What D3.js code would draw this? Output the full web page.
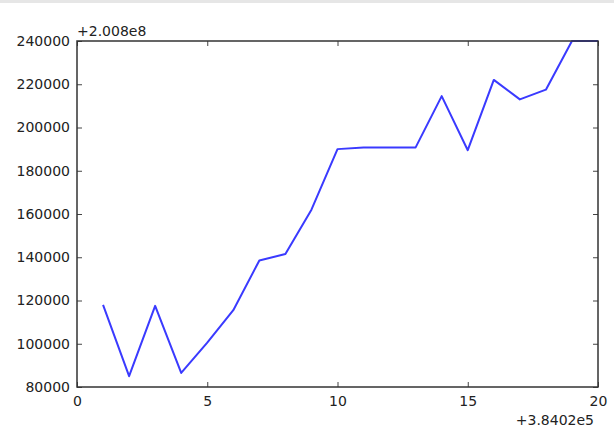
<!DOCTYPE html>
<html>
<head>
<meta charset="utf-8">
<script src="https://cdn.jsdelivr.net/npm/d3@7"></script>
<style>
  body { margin: 0; background: #fff; }
  svg text { font-family: "DejaVu Sans", sans-serif; fill: #222; }
</style>
</head>
<body>
<div id="chart"></div>
<script>
// values are shown relative to the offsets printed at the axis corners
var xValues = [1, 2, 3, 4, 5, 6, 7, 8, 9, 10, 11, 12, 13, 14, 15, 16, 17, 18, 19, 20];
var yValues = [118000, 85000, 117500, 86500, 100500, 115500, 138500, 141500, 162000, 190000,
               190800, 190800, 190800, 214500, 189500, 222000, 213000, 217500, 240000, 240000];
var xTicks = [0, 5, 10, 15, 20];
var yTicks = [80000, 100000, 120000, 140000, 160000, 180000, 200000, 220000, 240000];
var xOffsetLabel = "+3.8402e5";
var yOffsetLabel = "+2.008e8";

var W = 614, H = 429;
var margin = {top: 41, right: 16, bottom: 42, left: 77},
    width = W - margin.left - margin.right,
    height = H - margin.top - margin.bottom;

var svg = d3.select("#chart")
  .append("svg")
    .attr("width", W)
    .attr("height", H);

// thin grey strip along the top of the screenshot
svg.append("rect")
  .attr("x", 0).attr("y", 0)
  .attr("width", W).attr("height", 3)
  .style("fill", "#e6e6e6");

var g = svg.append("g")
  .attr("transform", `translate(${margin.left},${margin.top})`);

var x = d3.scaleLinear().domain([0, 20]).range([0, width]);
var y = d3.scaleLinear().domain([80000, 240000]).range([height, 0]);

// ticks point inward, on all four sides
function styleAxis(sel) {
  sel.select(".domain").remove();
  sel.selectAll(".tick line").style("stroke", "#444").style("stroke-width", 1);
  sel.selectAll(".tick text").style("font-size", "14px").style("fill", "#222");
}

g.append("g")
  .attr("transform", `translate(0,${height})`)
  .call(d3.axisBottom(x).tickValues(xTicks).tickSizeInner(-5).tickPadding(9).tickFormat(d3.format("d")))
  .call(styleAxis);

g.append("g")
  .call(d3.axisTop(x).tickValues(xTicks).tickSizeInner(-5).tickFormat(""))
  .call(styleAxis);

g.append("g")
  .call(d3.axisLeft(y).tickValues(yTicks).tickSizeInner(-5).tickPadding(7).tickFormat(d3.format("d")))
  .call(styleAxis);

g.append("g")
  .attr("transform", `translate(${width},0)`)
  .call(d3.axisRight(y).tickValues(yTicks).tickSizeInner(-5).tickFormat(""))
  .call(styleAxis);

var line = d3.line()
  .x((d, i) => x(xValues[i]))
  .y(d => y(d));

g.append("path")
  .datum(yValues)
  .attr("d", line)
  .style("fill", "none")
  .style("stroke", "#3a3aff")
  .style("stroke-width", 2)
  .style("stroke-linejoin", "round");

// frame
g.append("rect")
  .attr("width", width)
  .attr("height", height)
  .style("fill", "none")
  .style("stroke", "#333")
  .style("stroke-width", 1.5);

// offset labels
g.append("text")
  .attr("x", 0)
  .attr("y", -5)
  .style("font-size", "14px")
  .text(yOffsetLabel);

g.append("text")
  .attr("x", width - 4)
  .attr("y", height + 38)
  .attr("text-anchor", "end")
  .style("font-size", "14px")
  .text(xOffsetLabel);
</script>
</body>
</html>
